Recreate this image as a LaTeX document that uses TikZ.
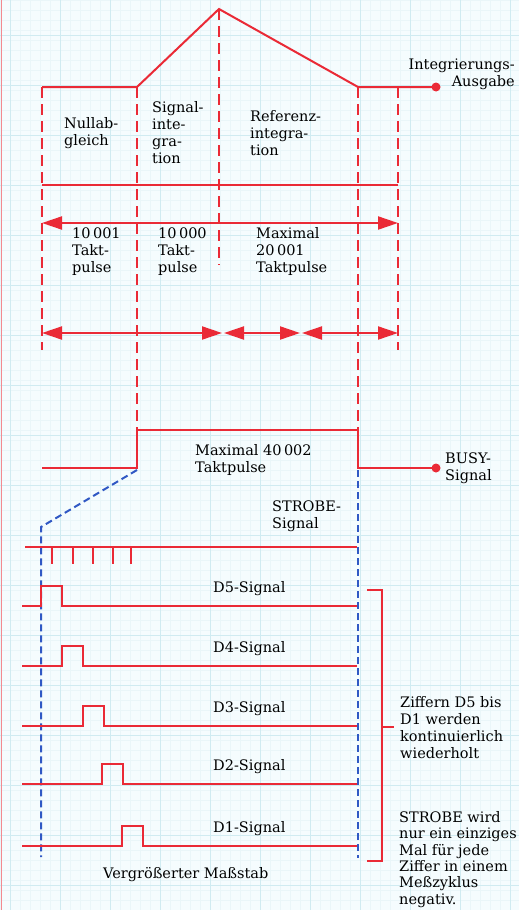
\documentclass[tikz,border=0pt]{standalone}
\usepackage{fontspec}
\setmainfont{DejaVu Serif}
\usetikzlibrary{arrows.meta, positioning}
\definecolor{sigred}{RGB}{234,42,54}
\definecolor{sigblue}{RGB}{48,88,196}
\definecolor{gridcyan}{RGB}{196,230,238}
\tikzset{
  lbl/.style   = {align=left, inner sep=0pt, anchor=base west, text=black,
                  font=\fontsize{14.5}{16.7}\selectfont},
  wave/.style  = {draw=sigred, line width=2pt, line join=miter},
  guide/.style = {draw=sigred, line width=2.4pt, dash pattern=on 11pt off 6pt},
  zoomln/.style = {draw=sigblue, line width=2pt, dash pattern=on 7pt off 4pt},
  span/.style  = {draw=sigred, line width=2pt,
                  {Triangle[length=20pt,width=13pt]}-{Triangle[length=20pt,width=13pt]}},
  outdot/.style = {circle, fill=sigred, inner sep=0pt, minimum size=9pt},
}
\begin{document}
\begin{tikzpicture}[x=1pt, y=-1pt]
    \useasboundingbox (0,0) rectangle (519,910);
    % paper
    \fill[white!96!cyan] (0,0) rectangle (519,910);
    \draw[gridcyan!35, line width=0.3pt] (0,0) grid[step=10pt] (519,910);
    \draw[gridcyan!80, line width=0.5pt, shift={(10,35)}] (-10,-35) grid[step=50pt] (509,875);
    \draw[sigred!55, line width=1.5pt] (1.5,0) -- (1.5,910);
    % integrator output
    \coordinate (i0) at (42,87);
    \coordinate (i1) at (137,87);
    \coordinate (ipk) at (219,9);
    \coordinate (i2) at (358,87);
    \node[outdot] (intout) at (436,87) {};
    \draw[wave] (i0) -- (i1) -- (ipk) -- (i2) -- (intout.center);
    \node[lbl, align=right, anchor=base east] (intlbl) at (515,86) {Integrierungs-\\Ausgabe};
    % phase guides
    \draw[guide] (42,87) -- (42,350);
    \draw[guide] (137,87) -- (137,430);
    \draw[guide] (219,9) -- (219,265);
    \draw[guide] (358,87) -- (358,430);
    \draw[guide] (398,87) -- (398,350);
    \draw[wave] (42,185) -- (398,185);
    \node[lbl] (nullab) at (64,145) {Nullab-\\gleich};
    \node[lbl] (sigint) at (152,163) {Signal-\\inte-\\gra-\\tion};
    \node[lbl] (refint) at (250,155) {Referenz-\\integra-\\tion};
    % clock counts
    \draw[span] (42,223) -- (398,223);
    \node[lbl] (cnt1) at (72,272) {10\,001\\Takt-\\pulse};
    \node[lbl] (cnt2) at (158,272) {10\,000\\Takt-\\pulse};
    \node[lbl] (cnt3) at (256,272) {Maximal\\20\,001\\Taktpulse};
    \draw[span] (42,333) -- (222,333);
    \draw[span] (224,333) -- (300,333);
    \draw[span] (302,333) -- (398,333);
    % busy
    \node[outdot] (busyout) at (436,468) {};
    \draw[wave] (42,468) -- (137,468) -- (137,430) -- (358,430) -- (358,468) -- (busyout.center);
    \node[lbl] (busymax) at (195,472) {Maximal 40\,002\\Taktpulse};
    \node[lbl] (busylbl) at (445,480) {BUSY-\\Signal};
    % enlarged scale
    \draw[zoomln] (137,470) -- (41,527) -- (41,857);
    \draw[zoomln] (358,470) -- (358,858);
    \node[lbl] (strobelbl) at (272,528) {STROBE-\\Signal};
    \draw[wave] (25,547) -- (357,547);
    \foreach \x in {52,73,93,113,131}
      \draw[wave] (\x,547) -- (\x,564);
    % digit strobes
    \foreach \y/\a/\d in {606/41/5, 666/62/4, 726/83/3, 784/102/2, 846/122/1} {
      \draw[wave] (22,\y) -- (\a,\y) -- (\a,\y-20) -- (\a+21,\y-20) -- (\a+21,\y) -- (357,\y);
      \node[lbl] (dlbl\d) at (213,\y-14) {D\d-Signal};
    }
    \node[lbl] (scale) at (103,878) {Vergrößerter Maßstab};
    % bracket
    \draw[wave] (367,590) -- (382,590) -- (382,861) -- (367,861);
    \draw[wave] (382,727) -- (394,727);
    \node[lbl] (repeat) at (400,758) {Ziffern D5 bis\\D1 werden\\kontinuierlich\\wiederholt};
    \node[lbl, font=\fontsize{14.5}{16.3}\selectfont] (stbnote) at (399,904) {STROBE wird\\nur ein einziges\\Mal für jede\\Ziffer in einem\\Meßzyklus\\negativ.};
\end{tikzpicture}
\end{document}
